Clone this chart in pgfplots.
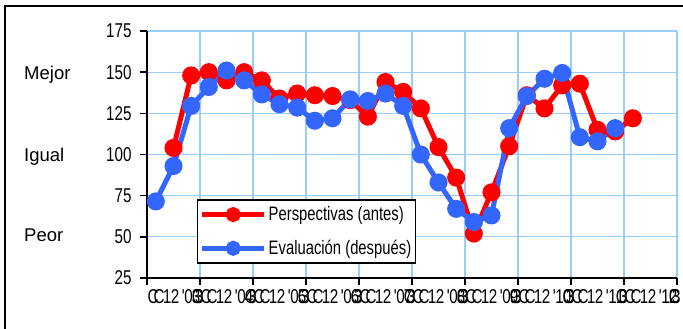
\documentclass[border=0pt]{standalone}
\usepackage{pgfplots}
\pgfplotsset{compat=1.18}
\usepackage{fontspec}
\setmainfont{Liberation Sans}
\newfontfamily\narrow[FakeStretch=0.76]{Liberation Sans}
\definecolor{gridblue}{RGB}{153,204,255}
\definecolor{serred}{RGB}{255,0,0}
\definecolor{serblue}{RGB}{51,102,255}
\newcommand{\ql}[2]{\rlap{\hspace{-3pt}C\kern-5pt C\kern-1.5pt 1\kern-0.5pt 2\kern2.5pt'\kern-0.5pt #1\kern-1pt\rlap{C}\kern0pt #2\kern-5pt 3}}
\begin{document}
\begin{tikzpicture}
\useasboundingbox (0,0) rectangle (683pt,329pt);
\draw[line width=1.5pt] (5pt,-5pt) -- (5pt,323pt) -- (690pt,323pt);
\begin{axis}[
  at={(147pt,51pt)}, anchor=south west,
  scale only axis, width=530pt, height=247pt,
  xmin=0, xmax=30, ymin=25, ymax=175,
  xtick={0,3,...,30},
  xticklabels={\ql{0}{3},\ql{0}{4},\ql{0}{5},\ql{0}{6},\ql{0}{7},\ql{0}{8},\ql{0}{9},\ql{1}{0},\ql{1}{1},\ql{1}{2},{}},
  ytick={25,50,...,175},
  axis x line=bottom, axis y line=left,
  axis line style={-, line width=1.5pt, black},
  tick align=outside, tick style={black, line width=1.5pt},
  major tick length=7pt,
  grid=major, major grid style={gridblue, line width=1.3pt},
  /pgf/number format/assume math mode=true,
  yticklabel style={xshift=-5pt, font=\narrow\fontsize{20}{20}\selectfont},
  xticklabel style={anchor=north west, yshift=-1pt, font=\narrow\fontsize{20}{20}\selectfont},
  legend style={at={(0.0943,0.3198)}, anchor=north west, draw=black, line width=1.5pt,
    font=\narrow\fontsize{19.5}{20}\selectfont, inner xsep=2pt, inner ysep=5pt, row sep=14pt},
  legend cell align=left,
  legend image code/.code={\draw[mark repeat=2,mark phase=2,#1, mark size=5pt] plot coordinates {(0pt,0pt) (31pt,0pt) (62pt,0pt)};},
  clip=false,
]
\addplot[serred, line width=5pt, mark=*, mark size=6.5pt, mark options={solid}] coordinates {
(1.5,104) (2.5,148) (3.5,150) (4.5,145) (5.5,150) (6.5,145) (7.5,134) (8.5,137) (9.5,136) (10.5,135.5)
(11.5,133) (12.5,123) (13.5,144) (14.5,138) (15.5,128) (16.5,104.5) (17.5,86) (18.5,52) (19.5,77) (20.5,105)
(21.5,136) (22.5,128) (23.5,142) (24.5,143) (25.5,115) (26.5,114) (27.5,122)};
\addlegendentry{Perspectivas (antes)}
\addplot[serblue, line width=5pt, mark=*, mark size=6.5pt, mark options={solid}] coordinates {
(0.5,71.5) (1.5,93) (2.5,129.5) (3.5,141) (4.5,151) (5.5,145) (6.5,136.5) (7.5,130.5) (8.5,128.5) (9.5,120.5)
(10.5,122) (11.5,133.5) (12.5,132.5) (13.5,137) (14.5,129.5) (15.5,100) (16.5,83) (17.5,67) (18.5,59) (19.5,63)
(20.5,116) (21.5,135.5) (22.5,146) (23.5,149.5) (24.5,110.5) (25.5,108) (26.5,116)};
\addlegendentry{Evaluación (después)}
\end{axis}
\node[anchor=west, font=\fontsize{18.5}{19}\selectfont, inner sep=0pt] at (24pt,254pt) {Mejor};
\node[anchor=west, font=\fontsize{18.5}{19}\selectfont, inner sep=0pt] at (24pt,172pt) {Igual};
\node[anchor=west, font=\fontsize{18.5}{19}\selectfont, inner sep=0pt] at (24pt,94pt) {Peor};
\end{tikzpicture}
\end{document}
